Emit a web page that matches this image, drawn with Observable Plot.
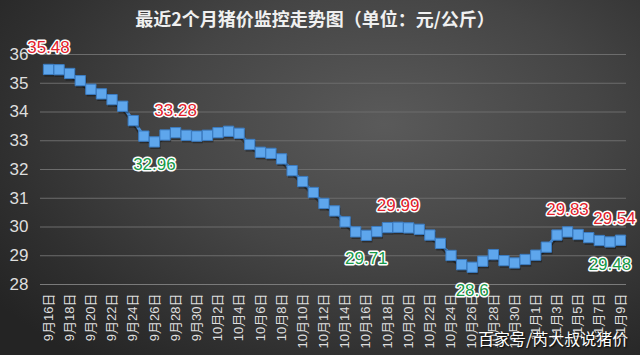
<!DOCTYPE html>
<html><head><meta charset="utf-8">
<script src="https://cdn.jsdelivr.net/npm/d3@7"></script>
<script src="https://cdn.jsdelivr.net/npm/@observablehq/plot@0.6"></script>
<style>
html,body{margin:0;padding:0;background:#2a2a2a;}
#wrap{position:relative;width:640px;height:355px;overflow:hidden;
  background:radial-gradient(ellipse 75% 85% at 60% 35%, #5a5a5a 0%, #454545 45%, #2f2f2f 80%, #242424 100%);
  font-family:"Liberation Sans","Noto Sans CJK SC",sans-serif;}
#title{height:36px;line-height:36px;text-align:center;color:#f0f0f0;font-size:18px;font-weight:bold;
  font-family:"Noto Sans CJK SC",sans-serif;padding-right:10px;}
#chart{height:319px;}
#wm{position:absolute;left:478px;top:328px;color:#fff;font-size:16px;text-shadow:1px 1px 2px #000;
  font-family:"Noto Sans CJK SC",sans-serif;line-height:20px;}
</style></head>
<body>
<div id="wrap">
  <div id="title">最近2个月猪价监控走势图（单位：元/公斤）</div>
  <div id="chart"></div>
  <div id="wm">百家号/芮大叔说猪价</div>
</div>
<script>
const dates = [
  "9月16日","9月17日","9月18日","9月19日","9月20日","9月21日","9月22日","9月23日","9月24日","9月25日",
  "9月26日","9月27日","9月28日","9月29日","9月30日",
  "10月1日","10月2日","10月3日","10月4日","10月5日","10月6日","10月7日","10月8日","10月9日","10月10日",
  "10月11日","10月12日","10月13日","10月14日","10月15日","10月16日","10月17日","10月18日","10月19日","10月20日",
  "10月21日","10月22日","10月23日","10月24日","10月25日","10月26日","10月27日","10月28日","10月29日","10月30日","10月31日",
  "11月1日","11月2日","11月3日","11月4日","11月5日","11月6日","11月7日","11月8日","11月9日"
];
const prices = [
  35.48,35.47,35.34,35.09,34.79,34.63,34.43,34.20,33.70,33.16,
  32.96,33.20,33.28,33.19,33.16,
  33.19,33.28,33.33,33.26,32.87,32.60,32.56,32.37,31.96,31.58,
  31.20,30.82,30.56,30.18,29.83,29.71,29.84,29.98,29.99,29.97,
  29.92,29.72,29.43,29.01,28.69,28.60,28.81,29.04,28.83,28.75,28.87,
  29.02,29.30,29.72,29.83,29.74,29.63,29.53,29.48,29.54
];
const xTicks = [
  "9月16日","9月18日","9月20日","9月22日","9月24日","9月26日","9月28日","9月30日",
  "10月2日","10月4日","10月6日","10月8日","10月10日","10月12日","10月14日","10月16日",
  "10月18日","10月20日","10月22日","10月24日","10月26日","10月28日","10月30日",
  "11月1日","11月3日","11月5日","11月7日","11月9日"
];
const yTicks = [28,29,30,31,32,33,34,35,36];
const highDates = ["9月16日","9月28日","10月19日","11月4日"];
const lastDate = ["11月9日"];
const lowDates = ["9月26日","10月16日","10月26日","11月8日"];

const data = dates.map((d,i)=>({i, date:d, price:prices[i]}));
const idx = d => dates.indexOf(d);
const priceOf = d => prices[idx(d)];
const hi = {fontSize:17, fill:"#e3212b", stroke:"#ffffff", strokeWidth:3};

const chart = Plot.plot({
  width:640, height:319,
  marginLeft:40, marginRight:14, marginTop:18, marginBottom:71,
  style:{background:"transparent", color:"#dedede", fontFamily:'"Liberation Sans","Noto Sans CJK SC",sans-serif'},
  x:{type:"linear", domain:[0, dates.length-1], range:[48,620]},
  y:{domain:[28,36]},
  marks:[
    Plot.ruleY(yTicks.slice(1), {stroke:"#6c6c6c", strokeWidth:1}),
    Plot.ruleY([28], {stroke:"#7a7a7a", strokeWidth:1}),
    Plot.axisY({ticks:yTicks, tickSize:0, tickPadding:12, fontSize:17, label:null}),
    Plot.axisX({ticks:xTicks.map(idx), tickFormat:i=>dates[i], tickSize:0, tickPadding:9, tickRotate:-90, fontSize:13, label:null}),
    Plot.line(data, {x:"i", y:"price", dy:2, stroke:"#000", strokeOpacity:0.35, strokeWidth:4}),
    Plot.line(data, {x:"i", y:"price", stroke:"#4a8ed6", strokeWidth:3}),
    Plot.dot(data, {x:"i", y:"price", dx:1, dy:2, symbol:"square", r:5.8, fill:"#000", fillOpacity:0.35}),
    Plot.dot(data, {x:"i", y:"price", symbol:"square", r:5.8, fill:"#5ea6ec", stroke:"#3b7cc2", strokeWidth:1}),
    Plot.text(highDates, {x:idx, y:priceOf, text:d=>String(priceOf(d)), dy:-22, ...hi}),
    Plot.text(lastDate, {x:idx, y:priceOf, text:d=>String(priceOf(d)), dy:-22, dx:-6, ...hi}),
    Plot.text(lowDates, {x:idx, y:priceOf, text:d=>String(priceOf(d)), dy:23, fontSize:17,
      fill:"#169a48", stroke:"#ffffff", strokeWidth:3})
  ]
});
document.getElementById("chart").appendChild(chart);
</script>
</body></html>
